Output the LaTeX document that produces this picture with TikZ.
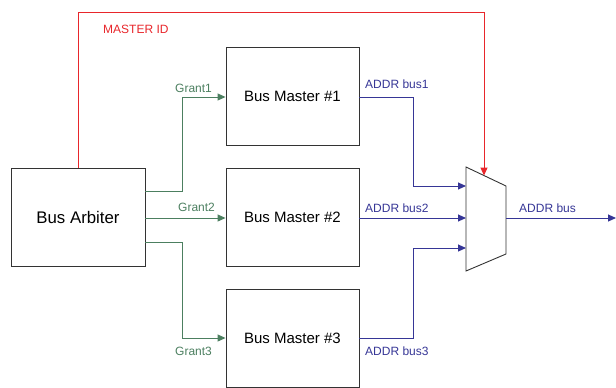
\documentclass[tikz,border=0pt]{standalone}
\usepackage{fontspec}
\setmainfont{Liberation Sans}
\usetikzlibrary{positioning,arrows.meta,calc}
\definecolor{grant}{HTML}{4C7F60}
\definecolor{addr}{HTML}{363696}
\definecolor{mid}{HTML}{E8262B}
\definecolor{ink}{HTML}{333333}
\begin{document}
\begin{tikzpicture}[x=1pt,y=-1pt,>={Triangle[length=8pt,width=7pt]},
  blk/.style={draw=ink,line width=0.9pt,minimum width=133pt,minimum height=98pt,inner sep=0pt,font=\fontsize{15}{18}\selectfont},
  grantln/.style={grant,line width=1pt},
  addrln/.style={addr,line width=1pt},
  lbl/.style={font=\fontsize{12}{14}\selectfont,inner sep=0pt,anchor=west}]
\useasboundingbox (0,0) rectangle (616,388);
\node[blk,minimum width=134pt,font=\fontsize{16.8}{20}\selectfont] (arb) at (78,217) {Bus Arbiter};
\node[blk] (bm1) at (292.5,96.5) {Bus Master \#1};
\node[blk] (bm2) at (292.5,217) {Bus Master \#2};
\node[blk] (bm3) at (292.5,338) {Bus Master \#3};
% mux
\coordinate (m1) at (466,167);
\coordinate (m2) at (506,186);
\coordinate (m3) at (506,254);
\coordinate (m4) at (466,271);
\draw[ink,line width=0.9pt] (m1) -- (m2) -- (m3) -- (m4) -- cycle;
\coordinate (muxtop) at ($(m1)!0.45!(m2)$);
\coordinate (mux1) at (466,186);
\coordinate (mux2) at (466,218);
\coordinate (mux3) at (466,248);
\coordinate (muxout) at (506,218);
\coordinate (out) at (616,218);
% grants
\draw[->,grantln] ($(arb.east)+(0,-26)$) -| (182,97) -- (bm1.west |- 0,97);
\draw[->,grantln] (arb.east |- 0,218) -- (bm2.west |- 0,218);
\draw[->,grantln] ($(arb.east)+(0,25)$) -| (182,338) -- (bm3.west);
\node[lbl,text=grant] (g1) at (175,88) {Grant1};
\node[lbl,text=grant] (g2) at (178,207) {Grant2};
\node[lbl,text=grant] (g3) at (175,351) {Grant3};
% address buses
\draw[->,addrln] (bm1.east |- 0,97) -| (413,186) -- (mux1);
\draw[->,addrln] (bm2.east |- 0,218) -- (mux2);
\draw[->,addrln] (bm3.east) -| (413,248) -- (mux3);
\draw[->,addrln] (muxout) -- (out);
\node[lbl,text=addr] (a1) at (365,84) {ADDR bus1};
\node[lbl,text=addr] (a2) at (365,208) {ADDR bus2};
\node[lbl,text=addr] (a3) at (365,351) {ADDR bus3};
\node[lbl,text=addr] (ao) at (519,208) {ADDR bus};
% master id
\draw[->,mid,line width=1pt] (arb.north) -- (78,12) -| (muxtop);
\node[lbl,text=mid] (mi) at (103,29) {MASTER ID};
\end{tikzpicture}
\end{document}
